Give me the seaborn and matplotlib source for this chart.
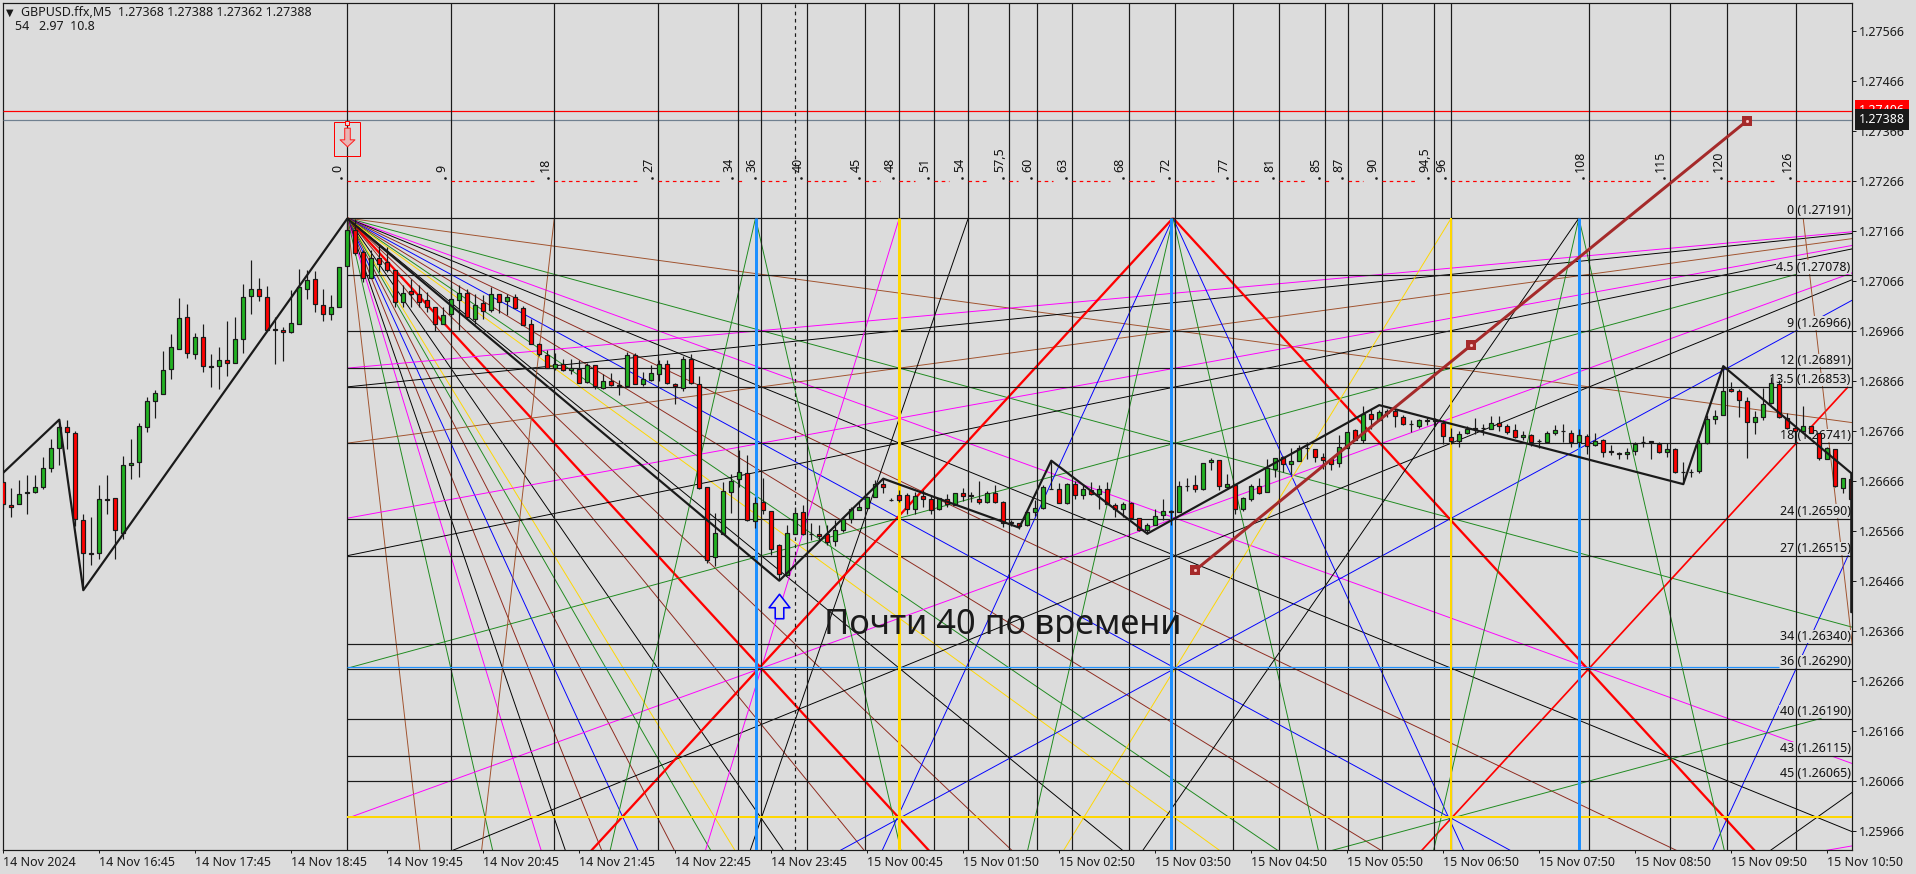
import numpy as np
import pandas as pd
import matplotlib
matplotlib.use("Agg")
import matplotlib.pyplot as plt
from matplotlib.path import Path
from matplotlib.patches import Rectangle
import seaborn as sns

# candele M5 in punti (prezzo * 100000)
opens = [
    126664,126618,126620,126642,126644,126654,126692,126732,126774,126762,
    126588,126522,126522,126630,126632,126562,126698,126704,126774,126826,
    126840,126890,126930,126994,126920,126954,126896,126896,126908,126902,
    126950,127036,127050,127034,126970,126968,126964,126980,127050,127070,
    127018,127000,127014,127096,127168,127124,127072,127112,127104,127088,
    127024,127045,127040,127028,127014,126980,126999,127028,127042,126990,
    127022,127008,127040,127026,127034,127012,126980,126940,126918,126891,
    126900,126888,126889,126864,126898,126852,126866,126858,126856,126918,
    126860,126868,126880,126900,126860,126852,126910,126860,126654,126514,
    126560,126644,126670,126682,126586,126624,126606,126538,126477,126560,
    126604,126560,126560,126559,126545,126568,126589,126608,126612,126634,
    126660,126628,126638,126638,126610,126635,126630,126610,126630,126618,
    126642,126637,126630,126624,126642,126624,126583,126582,126578,126604,
    126612,126650,126650,126622,126660,126638,126648,126639,126650,126618,
    126610,126622,126592,126568,126578,126598,126605,126604,126656,126658,
    126650,126704,126708,126654,126658,126610,126630,126656,126644,126690,
    126714,126700,126706,126732,126730,126714,126709,126702,126732,126768,
    126748,126800,126788,126802,126806,126794,126780,126776,126788,126787,
    126782,126754,126746,126762,126771,126771,126770,126782,126775,126768,
    126754,126758,126746,126744,126762,126766,126762,126744,126756,126738,
    126748,126725,126721,126720,126726,126744,126745,126740,126724,126730,
    126684,126684,126686,126742,126790,126798,126850,126846,126826,126784,
    126794,126822,126860,126792,126772,126766,126775,126761,126710,126730,
    126652,126670]
closes = [
    126619,126614,126640,126644,126654,126692,126732,126774,126764,126590,
    126522,126520,126630,126628,126568,126698,126702,126776,126826,126842,
    126888,126934,126992,126922,126954,126896,126894,126908,126902,126950,
    127034,127050,127036,126968,126968,126964,126982,127054,127068,127020,
    127000,127014,127094,127168,127122,127072,127112,127100,127088,127024,
    127042,127040,127024,127014,126980,126998,127030,127042,126994,127018,
    127006,127040,127024,127034,127012,126978,126940,126919,126892,126900,
    126888,126892,126862,126898,126856,126866,126858,126856,126918,126860,
    126870,126882,126900,126862,126856,126909,126862,126652,126508,126562,
    126646,126666,126684,126587,126622,126608,126530,126479,126562,126602,
    126559,126559,126556,126544,126568,126589,126610,126613,126633,126660,
    126654,126627,126628,126610,126635,126630,126608,126632,126619,126642,
    126636,126635,126624,126642,126624,126582,126582,126576,126604,126612,
    126653,126649,126622,126660,126638,126650,126640,126650,126620,126610,
    126620,126592,126567,126578,126596,126606,126604,126656,126655,126650,
    126702,126707,126656,126660,126609,126632,126656,126642,126692,126712,
    126700,126706,126732,126731,126714,126708,126700,126734,126764,126748,
    126800,126790,126804,126806,126795,126780,126779,126788,126785,126786,
    126756,126746,126760,126770,126770,126772,126782,126776,126764,126754,
    126758,126744,126745,126762,126768,126765,126744,126758,126735,126746,
    126724,126724,126720,126724,126740,126743,126744,126724,126730,126684,
    126683,126683,126742,126790,126796,126846,126846,126828,126784,126794,
    126820,126862,126794,126772,126766,126776,126762,126712,126732,126656,
    126672,126630]
highs = [
    126707,126652,126667,126677,126677,126714,126750,126787,126788,126765,
    126599,126594,126657,126677,126632,126715,126749,126782,126834,126847,
    126925,126960,127032,127020,126962,126980,126919,126933,126985,126993,
    127060,127107,127072,127055,126994,126974,127047,127090,127087,127085,
    127050,127038,127094,127189,127190,127127,127128,127139,127134,127088,
    127057,127070,127057,127044,127014,127014,127057,127057,127050,127040,
    127037,127054,127040,127040,127040,127016,126990,126942,126927,126922,
    126910,126909,126907,126902,126898,126880,126882,126867,126924,126922,
    126884,126897,126908,126908,126862,126916,126919,126875,126654,126602,
    126664,126679,126727,126718,126634,126672,126606,126540,126577,126614,
    126618,126582,126578,126577,126587,126594,126614,126624,126635,126668,
    126672,126632,126647,126642,126644,126647,126637,126632,126640,126642,
    126652,126643,126665,126645,126657,126626,126588,126582,126608,126627,
    126657,126705,126662,126662,126666,126660,126663,126657,126664,126622,
    126624,126624,126592,126582,126610,126630,126608,126665,126672,126677,
    126702,126712,126708,126680,126660,126634,126660,126672,126710,126712,
    126716,126732,126737,126744,126730,126722,126712,126757,126764,126770,
    126815,126810,126808,126810,126810,126797,126787,126790,126794,126792,
    126788,126772,126766,126775,126792,126779,126795,126795,126779,126779,
    126766,126759,126749,126766,126777,126779,126768,126770,126760,126762,
    126750,126738,126724,126732,126744,126755,126745,126744,126742,126732,
    126704,126690,126747,126797,126807,126894,126864,126850,126834,126806,
    126852,126874,126867,126802,126775,126816,126775,126761,126734,126730,
    126672,126670]
lows = [
    126610,126594,126620,126600,126642,126650,126684,126697,126730,126575,
    126447,126497,126510,126600,126510,126549,126670,126674,126764,126792,
    126840,126869,126930,126912,126909,126884,126854,126849,126875,126902,
    126922,126999,127025,126967,126900,126905,126962,126980,127030,127004,
    126986,126987,127014,127096,127117,127064,127072,127084,127084,127014,
    127014,127014,127014,127004,126966,126980,126980,126967,126992,126980,
    126990,127004,127002,126997,127012,126977,126939,126916,126891,126887,
    126885,126880,126861,126861,126850,126850,126856,126837,126856,126859,
    126855,126866,126865,126860,126819,126845,126860,126650,126502,126495,
    126560,126602,126654,126586,126572,126599,126517,126467,126477,126560,
    126557,126547,126547,126537,126536,126564,126582,126608,126610,126633,
    126642,126626,126623,126600,126600,126614,126599,126608,126614,126617,
    126626,126624,126620,126622,126622,126574,126576,126570,126575,126595,
    126610,126649,126622,126620,126630,126630,126637,126609,126619,126594,
    126594,126590,126566,126560,126577,126587,126577,126604,126646,126644,
    126647,126687,126647,126652,126599,126606,126626,126640,126644,126674,
    126684,126680,126705,126710,126704,126690,126687,126694,126731,126747,
    126742,126770,126786,126794,126774,126777,126764,126772,126777,126775,
    126740,126740,126734,126760,126760,126757,126770,126766,126760,126752,
    126748,126735,126732,126744,126757,126744,126734,126734,126720,126735,
    126714,126717,126710,126710,126717,126734,126710,126722,126714,126682,
    126660,126674,126682,126740,126779,126798,126844,126794,126712,126759,
    126787,126820,126792,126770,126740,126766,126761,126708,126709,126654,
    126642,126630]

# zigzag: indice candela e punti
zig_bars = [0, 7, 10, 43, 97, 110, 127, 131, 143, 172, 210, 215, 231, 231]
zig_pts = [126682, 126788, 126447, 127190, 126466, 126670, 126572, 126706,
           126560, 126817, 126659, 126895, 126681, 126403]

# trendline marrone
trend_bars = [149, 183.5, 218]
trend_pts = [126487, 126937, 127386]

# griglia temporale (numeri in alto)
time_levels = [0, 9, 18, 27, 34, 36, 40, 45, 48, 51, 54, 57.5, 60, 63, 68, 72,
               77, 81, 85, 87, 90, 94.5, 96, 108, 115, 120, 126]
time_names = ["0", "9", "18", "27", "34", "36", "40", "45", "48", "51", "54",
              "57,5", "60", "63", "68", "72", "77", "81", "85", "87", "90",
              "94,5", "96", "108", "115", "120", "126"]
blue_times = [35.5, 71.6, 107.1]
gold_times = [48, 96]

# livelli di prezzo (etichette a destra)
price_levels = ["0", "4.5", "9", "12", "13.5", "18", "24", "27", "34", "36", "40", "43", "45"]
price_values = ["1.27191", "1.27078", "1.26966", "1.26891", "1.26853", "1.26741", "1.26590",
                "1.26515", "1.26340", "1.26290", "1.26190", "1.26115", "1.26065"]
gold_price = 1.25994
dotted_bar = 99
dotted_price = 1.27266
ask_price = 1.27406
bid_price = 1.27388

# assi
ytick_values = [1.27566, 1.27466, 1.27366, 1.27266, 1.27166, 1.27066, 1.26966, 1.26866, 1.26766,
                1.26666, 1.26566, 1.26466, 1.26366, 1.26266, 1.26166, 1.26066, 1.25966]
xtick_bars = list(range(0, 229, 12))
xtick_names = ["14 Nov 2024", "14 Nov 16:45", "14 Nov 17:45", "14 Nov 18:45", "14 Nov 19:45",
               "14 Nov 20:45", "14 Nov 21:45", "14 Nov 22:45", "14 Nov 23:45", "15 Nov 00:45",
               "15 Nov 01:50", "15 Nov 02:50", "15 Nov 03:50", "15 Nov 04:50", "15 Nov 05:50",
               "15 Nov 06:50", "15 Nov 07:50", "15 Nov 08:50", "15 Nov 09:50", "15 Nov 10:50"]

# ventaglio dal massimo: rapporto livello/tempo
origin_ratios = [1/8, 1/4, 1/3, 3/8, 7/16, 1/2, 9/16, 5/8, 2/3, 3/4, 7/8, 1, 9/8, 4/3, 3/2, 8/5,
                 16/9, 2, 16/7, 8/3, 3, 4, 8]
origin_colors = ["sienna", "green", "magenta", "black", "maroon", "blue", "maroon", "green", "gold",
                 "black", "maroon", "red", "maroon", "black", "gold", "green", "maroon", "blue",
                 "maroon", "black", "magenta", "green", "sienna"]
# ventaglio dal punto 144: (rapporto, colore, tempo massimo)
right_ratios = [1/12, 3/32, 1/8, 1/6, 3/16, 1/4, 1/3, 3/8, 1/2, 1, 2]
right_colors = ["magenta", "black", "sienna", "magenta", "black", "green", "magenta", "black",
                "blue", "red", "blue"]
right_stops = [144, 144, 144, 144, 144, 126, 144, 144, 144, 130.5, 144]
# altri vertici sulla riga 0: tempo, rapporto, lato, colore
apex_times = [18, 35.5, 35.5, 48, 54, 71.8, 71.8, 71.8, 71.8, 71.8, 71.8, 96, 107.1, 107.1, 107.1, 126.6]
apex_ratios = [8, 4, 4, 3, 8/3, 1, 1, 2, 2, 4, 4, 3/2, 4, 4, 4/3, 8]
apex_sides = [-1, -1, 1, -1, -1, -1, 1, -1, 1, -1, 1, -1, -1, 1, -1, 1]
apex_colors = ["sienna", "green", "green", "magenta", "black", "red", "red", "blue", "blue", "green",
               "green", "gold", "green", "green", "black", "sienna"]
# segmenti sparsi (t1, l1, t2, l2)
extra_segments = [(85.5, 50.6, 128.2, 40, "green"), (123.7, 50.6, 130.9, 45.9, "black"),
                  (128.4, 50.6, 130.9, 50.2, "magenta")]

BG = "#DCDCDC"
PX = 0.72
palette = {"sienna": "#A0522D", "green": "#1E8A1E", "magenta": "#FF00FF", "black": "#000000",
           "maroon": "#8E2A1E", "blue": "#0000FF", "gold": "#FFD700", "red": "#FF0000"}

sns.set_theme(style="white")
plt.rcParams["font.family"] = ["Noto Sans", "DejaVu Sans"]

W, H = 1916, 874
fig = plt.figure(figsize=(W / 100, H / 100), dpi=100, facecolor=BG)
ax = fig.add_axes([2.5 / W, (H - 850.3) / H, (1852 - 2.5) / W, (850.3 - 2.5) / H], facecolor=BG)
ax.set_xlim(-0.1, 231.09)
ax.set_ylim(1.25927, 1.27622)


def tbar(t):
    # numero della griglia -> indice candela
    return 43 + 1.4375 * np.asarray(t, dtype=float)


def lprice(k):
    # livello della griglia -> prezzo
    return 1.27191 - 0.00025 * np.asarray(k, dtype=float)


def seg(t1, k1, t2, k2, col, width=0.95, z=2):
    ax.plot(tbar([t1, t2]), lprice([k1, k2]), color=palette[col], lw=width * PX,
            solid_capstyle="butt", zorder=z)


# raggi
bottom_k = 51
for r, col in zip(origin_ratios, origin_colors):
    seg(0, 0, bottom_k / r, bottom_k, col, 2.3 if col == "red" else 0.95)
for r, col, stop in zip(right_ratios, right_colors, right_stops):
    t_low = max(0, 144 - bottom_k / r)
    seg(t_low, (144 - t_low) * r, stop, (144 - stop) * r, col, 1.7 if col == "red" else 0.95)
for t0, r, side, col in zip(apex_times, apex_ratios, apex_sides, apex_colors):
    seg(t0, 0, t0 + side * bottom_k / r, bottom_k, col, 2.3 if col == "red" else 0.95)
for t1, k1, t2, k2, col in extra_segments:
    seg(t1, k1, t2, k2, col)

# etichette dei livelli, sopra i raggi e sotto le candele
for name, val in zip(price_levels, price_values):
    ax.annotate(f"{name} ({val})", xy=(1, float(val)), xycoords=ax.get_yaxis_transform(),
                xytext=(-1, 0.7), textcoords="offset points", ha="right", va="bottom", fontsize=9,
                color="#111111", zorder=2.5, annotation_clip=False,
                bbox=dict(fc=BG, ec="none", pad=0.2))

# linee orizzontali e verticali
GRID = 1.2 * PX
for val in price_values:
    ax.hlines(float(val), tbar(0), 231.09, color="k", lw=GRID, zorder=3)
ax.hlines(1.26293, tbar(0), tbar(124.5), color="#1E90FF", lw=GRID, zorder=3.1)
ax.hlines(gold_price, tbar(0), 231.09, color="#FFD700", lw=2 * PX, zorder=3.1)
ax.hlines(ask_price, -0.1, 231.09, color="#FF0000", lw=GRID, zorder=3)
ax.hlines(bid_price, -0.1, 231.09, color="#708090", lw=GRID, zorder=3)

ax.vlines(tbar(time_levels), 1.25927, 1.27622, color="k", lw=GRID, zorder=3)
ax.vlines(tbar(blue_times), 1.25927, lprice(0), color="#1E90FF", lw=3 * PX, zorder=3.2)
ax.vlines(tbar(gold_times[0]), 1.25927, lprice(0), color="#FFD700", lw=3 * PX, zorder=3.2)
ax.vlines(tbar(gold_times[1]), 1.25927, lprice(0), color="#FFD700", lw=2 * PX, zorder=3.2)
ax.plot([dotted_bar, dotted_bar], [1.25927, 1.27622], color="k", lw=GRID, zorder=3, dashes=(3, 3))

# numeri in alto e tratteggio rosso
for i, (t, name) in enumerate(zip(time_levels, time_names)):
    b = float(tbar(t))
    ax.annotate(name, xy=(b, 1.27283), xytext=(-6.5, 0), textcoords="offset points", rotation=90,
                ha="center", va="bottom", fontsize=9, color="#111111", zorder=7)
    ax.plot([b - 0.75], [1.27271], marker="s", ms=0.8, color="k", zorder=7)
    end = float(tbar(time_levels[i + 1])) - 2.4 if i + 1 < len(time_levels) else 231.09
    if end > b:
        ax.plot([b, end], [dotted_price, dotted_price], color="#FF0000", lw=GRID, dashes=(3, 3),
                zorder=3)

# candele
bars = np.arange(len(opens))
candles = pd.DataFrame({"bar": bars, "open": opens, "high": highs, "low": lows, "close": closes})
for c in ["open", "high", "low", "close"]:
    candles[c] = candles[c] / 1e5
up = candles["close"] >= candles["open"]
ax.vlines(candles["bar"], candles["low"], candles["high"], color="k", lw=GRID, zorder=4)
ax.bar(candles["bar"], (candles["close"] - candles["open"]).abs(),
       bottom=candles[["open", "close"]].min(axis=1), width=0.55,
       color=np.where(up, "#22B322", "#FF0000"), edgecolor="k", linewidth=GRID, zorder=5)

# zigzag e trendline con seaborn
zig = pd.DataFrame({"bar": zig_bars, "price": np.array(zig_pts) / 1e5})
sns.lineplot(data=zig, x="bar", y="price", color="k", lw=2.2 * PX, sort=False, estimator=None, ax=ax, zorder=6)
trend = pd.DataFrame({"bar": trend_bars, "price": np.array(trend_pts) / 1e5})
sns.lineplot(data=trend, x="bar", y="price", color="#A52A2A", lw=3 * PX, sort=False, estimator=None,
             ax=ax, zorder=6, marker="s", markersize=7, markeredgewidth=0)
ax.plot(trend["bar"], trend["price"], ls="none", marker="s", ms=1, color="#FFC8C8", zorder=6.5)

# frecce e riquadro del segnale
down = Path([(-.3, 1), (.3, 1), (.3, -.25), (.8, -.25), (0, -1), (-.8, -.25), (-.3, -.25), (-.3, 1)], closed=True)
upw = Path([(-.35, -1), (.35, -1), (.35, -.1), (.85, -.1), (0, 1), (-.85, -.1), (-.35, -.1), (-.35, -1)], closed=True)
ax.scatter([43], [1.27353], marker=down, s=180, facecolor="#E9B4B4", edgecolor="#FF2020", linewidth=PX, zorder=7)
ax.scatter([97], [1.26416], marker=upw, s=310, facecolor=BG, edgecolor="#0000FF", linewidth=1.6 * PX, zorder=7)
ax.add_patch(Rectangle((41.4, 1.27316), 3.25, 0.00068, fc="none", ec="#FF0000", lw=PX, zorder=7))
ax.plot([43], [1.27382], ls="none", marker="s", ms=3.5, mfc=BG, mec="#FF0000", mew=PX, zorder=7)

ax.text(102.6, 1.26377, "Почти 40 по времени", fontsize=24.8, color="k", va="center", ha="left", zorder=8)

# assi a destra e in basso
ax.yaxis.tick_right()
ax.set_yticks(ytick_values)
ax.set_yticklabels([f"{v:.5f}" for v in ytick_values], fontsize=9, color="k")
ax.set_xticks(xtick_bars)
ax.set_xticklabels(xtick_names, fontsize=9, color="k", ha="left")
ax.tick_params(axis="y", length=3, width=PX, pad=2, color="k", right=True, left=False)
ax.tick_params(axis="x", length=2.2, width=PX, pad=2, color="k", bottom=True)
ax.set_xlabel("")
ax.set_ylabel("")
for s in ax.spines.values():
    s.set_visible(True)
    s.set_color("k")
    s.set_linewidth(GRID)

# caselle bid/ask
ax.annotate("1.27406", xy=(1, ask_price), xycoords=ax.get_yaxis_transform(), xytext=(5, 0),
            textcoords="offset points", ha="left", va="center", fontsize=9, color="w",
            annotation_clip=False, bbox=dict(fc="#FF0000", ec="none", boxstyle="square,pad=0.3"), zorder=9)
ax.annotate("1.27388", xy=(1, bid_price), xycoords=ax.get_yaxis_transform(), xytext=(5, 0),
            textcoords="offset points", ha="left", va="center", fontsize=9, color="w",
            annotation_clip=False, bbox=dict(fc="k", ec="none", boxstyle="square,pad=0.3"), zorder=10)

# intestazione
fig.text(6 / W, 1 - 13 / H, "▼", fontsize=7, color="k", va="center", ha="left")
fig.text(21 / W, 1 - 12.5 / H, "GBPUSD.ffx,M5  1.27368 1.27388 1.27362 1.27388", fontsize=9, color="k", va="center")
fig.text(15 / W, 1 - 26 / H, "54   2.97  10.8", fontsize=9, color="k", va="center")

fig.savefig("out.png", dpi=100, facecolor=BG)
